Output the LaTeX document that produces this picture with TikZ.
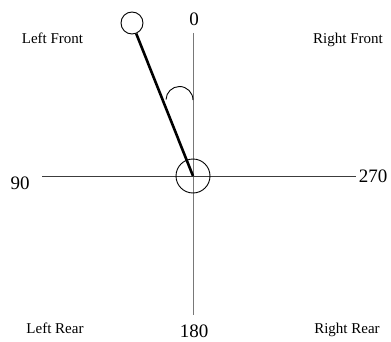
\documentclass[tikz,border=0pt]{standalone}
\usepackage{fontspec}
\setmainfont{Liberation Serif}
\usepackage{tikz}
\usetikzlibrary{positioning, calc}
\definecolor{axisgray}{RGB}{120, 120, 120}
\definecolor{axisdark}{RGB}{60, 60, 60}

\begin{document}
\begin{tikzpicture}[x=1pt, y=1pt,
  ring/.style={draw=black, circle, inner sep=0pt, line width=0.9pt},
  axisline/.style={draw=axisdark, line width=0.9pt},
  rod/.style={draw=black, line width=2.6pt},
  corner/.style={anchor=base, font=\fontsize{15}{18}\selectfont},
  angle/.style={anchor=base, font=\fontsize{19}{22}\selectfont}
]
  \useasboundingbox (0, 0) rectangle (391, 341);

  % Axes
  \coordinate (top) at (193, 308);
  \coordinate (bottom) at (193, 26);
  \coordinate (left) at (42, 165);
  \coordinate (right) at (356, 165);
  \draw[axisline, draw=axisgray] (top) -- (bottom);
  \draw[axisline] (left) -- (right);

  % Hub and bob
  \node[ring, minimum size=34pt] (hub) at (193, 165) {};
  \node[ring, minimum size=22pt, fill=white] (bob) at (132, 318) {};
  \draw[rod] (bob) -- (hub.center);

  % Angle mark
  \draw[line width=0.9pt] (193, 241) arc (0:178:13.5);

  % Headings
  \node[angle] (deg0) at (194, 316) {0};
  \node[angle] (deg180) at (194, 4) {180};
  \node[angle] (deg90) at (20, 152) {90};
  \node[angle] (deg270) at (373, 159) {270};
  \node[corner] (lf) at (52.5, 298) {Left Front};
  \node[corner] (rf) at (348, 298) {Right Front};
  \node[corner] (lr) at (55, 8) {Left Rear};
  \node[corner] (rr) at (347, 8) {Right Rear};
\end{tikzpicture}
\end{document}
